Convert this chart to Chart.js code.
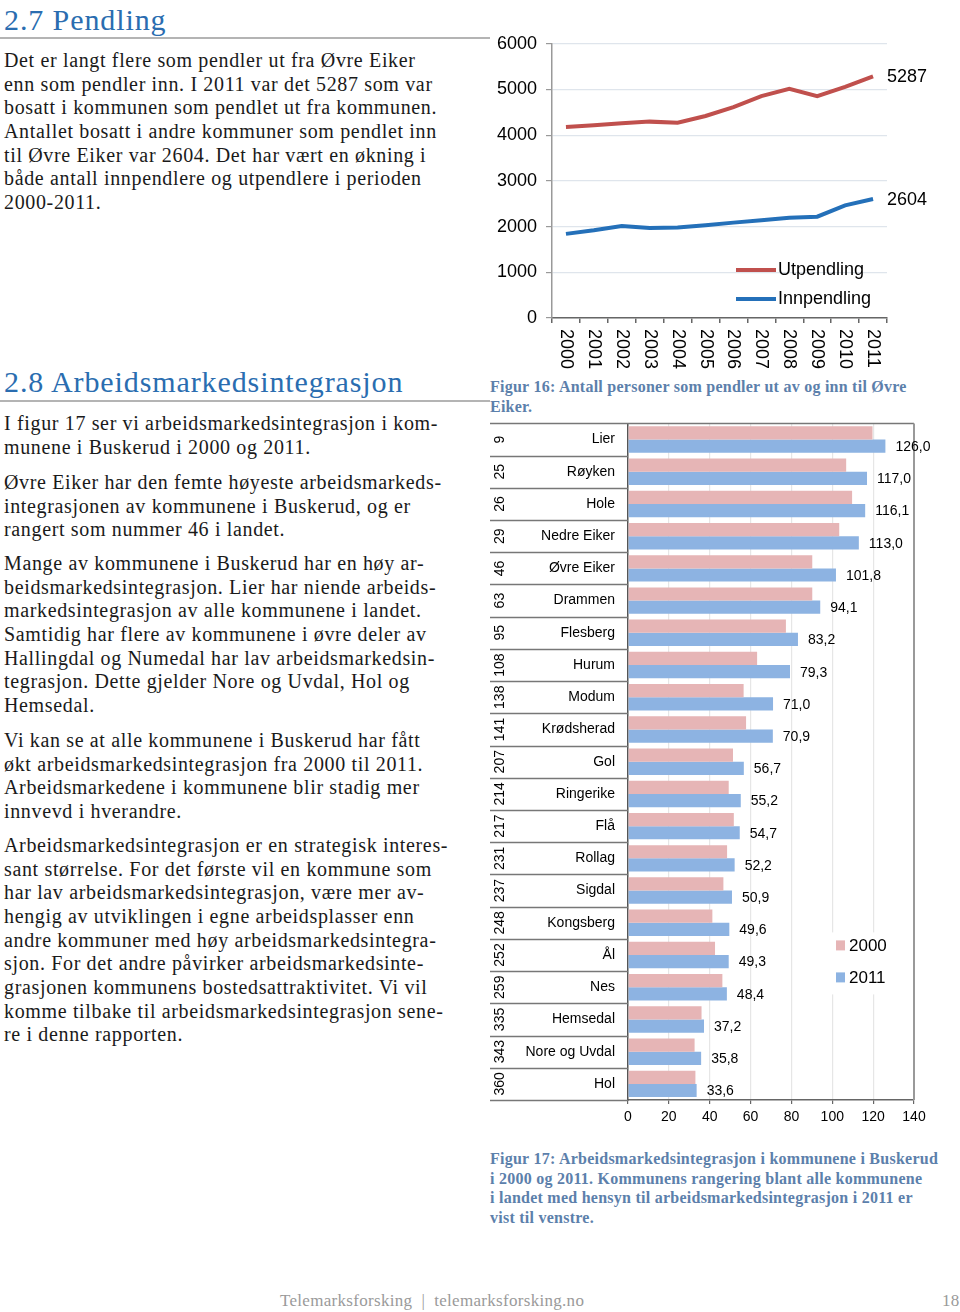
<!DOCTYPE html>
<html lang="no">
<head>
<meta charset="utf-8">
<script src="https://cdn.jsdelivr.net/npm/chart.js@4.4.1/dist/chart.umd.min.js"></script>
<style>
  html, body { margin: 0; padding: 0; background: #fff; }
  body { width: 960px; height: 1312px; position: relative; overflow: hidden; font-family: "Liberation Serif", serif; color: #1a1a1a; }
  .abs { position: absolute; white-space: nowrap; }
  .h { font-size: 30px; line-height: 34px; letter-spacing: 0.9px; color: #2a6db0; left: 4px; }
  .p { font-size: 20px; line-height: 23.65px; letter-spacing: 0.65px; left: 4px; }
  .rule { position: absolute; left: 0; width: 490px; height: 2px; background: #b4b4b4; }
  .cap { font-size: 16px; line-height: 19.6px; letter-spacing: 0.25px; font-weight: bold; color: #5c80ab; left: 490px; }
  .foot { font-size: 17px; letter-spacing: 0.3px; color: #9a9a9a; top: 1291px; }
  #pendling { position: absolute; left: 490px; top: 24px; }
  #integrasjon { position: absolute; left: 490px; top: 402px; }
</style>
</head>
<body>
<div class="abs h" style="top:3px">2.7 Pendling</div>
<div class="rule" style="top:37px"></div>
<div class="abs p" style="top:49px">Det er langt flere som pendler ut fra Øvre Eiker<br>enn som pendler inn. I 2011 var det 5287 som var<br>bosatt i kommunen som pendlet ut fra kommunen.<br>Antallet bosatt i andre kommuner som pendlet inn<br>til Øvre Eiker var 2604. Det har vært en økning i<br>både antall innpendlere og utpendlere i perioden<br>2000-2011.</div>

<div class="abs h" style="top:365px">2.8 Arbeidsmarkedsintegrasjon</div>
<div class="rule" style="top:400px"></div>
<div class="abs p" style="top:412px">I figur 17 ser vi arbeidsmarkedsintegrasjon i kom-<br>munene i Buskerud i 2000 og 2011.</div>
<div class="abs p" style="top:471px">Øvre Eiker har den femte høyeste arbeidsmarkeds-<br>integrasjonen av kommunene i Buskerud, og er<br>rangert som nummer 46 i landet.</div>
<div class="abs p" style="top:552px">Mange av kommunene i Buskerud har en høy ar-<br>beidsmarkedsintegrasjon. Lier har niende arbeids-<br>markedsintegrasjon av alle kommunene i landet.<br>Samtidig har flere av kommunene i øvre deler av<br>Hallingdal og Numedal har lav arbeidsmarkedsin-<br>tegrasjon. Dette gjelder Nore og Uvdal, Hol og<br>Hemsedal.</div>
<div class="abs p" style="top:729px">Vi kan se at alle kommunene i Buskerud har fått<br>økt arbeidsmarkedsintegrasjon fra 2000 til 2011.<br>Arbeidsmarkedene i kommunene blir stadig mer<br>innvevd i hverandre.</div>
<div class="abs p" style="top:834px">Arbeidsmarkedsintegrasjon er en strategisk interes-<br>sant størrelse. For det første vil en kommune som<br>har lav arbeidsmarkedsintegrasjon, være mer av-<br>hengig av utviklingen i egne arbeidsplasser enn<br>andre kommuner med høy arbeidsmarkedsintegra-<br>sjon. For det andre påvirker arbeidsmarkedsinte-<br>grasjonen kommunens bostedsattraktivitet. Vi vil<br>komme tilbake til arbeidsmarkedsintegrasjon sene-<br>re i denne rapporten.</div>

<canvas id="pendling" width="460" height="351"></canvas>
<div class="abs cap" style="top:377px">Figur 16: Antall personer som pendler ut av og inn til Øvre<br>Eiker.</div>

<canvas id="integrasjon" width="470" height="738"></canvas>
<div class="abs cap" style="top:1149px">Figur 17: Arbeidsmarkedsintegrasjon i kommunene i Buskerud<br>i 2000 og 2011. Kommunens rangering blant alle kommunene<br>i landet med hensyn til arbeidsmarkedsintegrasjon i 2011 er<br>vist til venstre.</div>

<div class="abs foot" style="left:280px">Telemarksforsking&nbsp; |&nbsp; telemarksforsking.no</div>
<div class="abs foot" style="left:942px">18</div>

<script>
const SANS = '"Liberation Sans", Arial, sans-serif';

// Figur 16 – pendling
const years = ["2000", "2001", "2002", "2003", "2004", "2005", "2006", "2007", "2008", "2009", "2010", "2011"];
const utpendling = [4180, 4217, 4260, 4297, 4275, 4420, 4616, 4855, 5015, 4855, 5058, 5287];
const innpendling = [1841, 1920, 2014, 1971, 1978, 2029, 2087, 2138, 2196, 2217, 2464, 2604];

// Figur 17 – arbeidsmarkedsintegrasjon
const kommuner = ["Lier", "Røyken", "Hole", "Nedre Eiker", "Øvre Eiker", "Drammen", "Flesberg", "Hurum", "Modum",
  "Krødsherad", "Gol", "Ringerike", "Flå", "Rollag", "Sigdal", "Kongsberg", "Ål", "Nes", "Hemsedal", "Nore og Uvdal", "Hol"];
const rangering = [9, 25, 26, 29, 46, 63, 95, 108, 138, 141, 207, 214, 217, 231, 237, 248, 252, 259, 335, 343, 360];
const verdi2000 = [119.7, 106.8, 109.7, 103.4, 90.2, 90.2, 77.3, 63.2, 56.6, 57.8, 51.4, 49.3, 51.8, 48.5, 46.7, 41.3, 42.6, 46.2, 36.0, 32.6, 33.0];
const verdi2011 = [126.0, 117.0, 116.1, 113.0, 101.8, 94.1, 83.2, 79.3, 71.0, 70.9, 56.7, 55.2, 54.7, 52.2, 50.9, 49.6, 49.3, 48.4, 37.2, 35.8, 33.6];

const RED = "#c0504d";
const BLUE = "#2470b9";
const PINK = "#e6b5b6";
const LIGHTBLUE = "#8db3e2";

Chart.defaults.font.family = SANS;
Chart.defaults.color = "#000";
Chart.defaults.animation = false;

const pendlingExtras = {
  id: "pendlingExtras",
  afterDraw(chart) {
    const { ctx, chartArea, scales } = chart;
    ctx.save();
    ctx.font = "18px " + SANS;
    ctx.fillStyle = "#000";

    // year labels, rotated clockwise
    ctx.textAlign = "left";
    ctx.textBaseline = "middle";
    years.forEach((y, i) => {
      ctx.save();
      ctx.translate(scales.x.getPixelForValue(i), chartArea.bottom + 11);
      ctx.rotate(Math.PI / 2);
      ctx.fillText(y, 0, 0);
      ctx.restore();
    });

    // end values
    chart.data.datasets.forEach((ds, di) => {
      const pts = chart.getDatasetMeta(di).data;
      const last = pts[pts.length - 1];
      ctx.fillText(String(ds.data[ds.data.length - 1]), last.x + 14, last.y + 1);
    });

    // legend inside the plot
    chart.data.datasets.forEach((ds, di) => {
      const y = chartArea.bottom - 48 + di * 29;
      const x = chartArea.right - 151;
      ctx.strokeStyle = ds.borderColor;
      ctx.lineWidth = 4;
      ctx.beginPath();
      ctx.moveTo(x, y);
      ctx.lineTo(x + 40, y);
      ctx.stroke();
      ctx.fillText(ds.label, x + 42, y);
    });
    ctx.restore();
  },
};

new Chart(document.getElementById("pendling"), {
  type: "line",
  data: {
    labels: years,
    datasets: [
      { label: "Utpendling", data: utpendling, borderColor: RED, borderWidth: 4, pointRadius: 0, tension: 0 },
      { label: "Innpendling", data: innpendling, borderColor: BLUE, borderWidth: 4, pointRadius: 0, tension: 0 },
    ],
  },
  options: {
    responsive: false,
    layout: { padding: { top: 6, right: 63, left: 0, bottom: 0 } },
    plugins: { legend: { display: false }, tooltip: { enabled: false } },
    scales: {
      x: {
        offset: true,
        grid: { offset: true, drawOnChartArea: false, tickLength: 5, tickColor: "#666", lineWidth: 1.5 },
        border: { color: "#666", width: 1.5 },
        ticks: { display: false },
        afterFit: (s) => { s.height = 57; },
      },
      y: {
        min: 0,
        max: 6000,
        ticks: { stepSize: 1000, padding: 9, font: { size: 18 }, callback: (v) => String(v) },
        grid: { color: "#dfe5ec", tickLength: 6, tickColor: "#999", lineWidth: 1.2 },
        border: { color: "#999", width: 1.5 },
        afterFit: (s) => { s.width = 62; },
      },
    },
  },
  plugins: [pendlingExtras],
});

const fmt = (v) => v.toFixed(1).replace(".", ",");

const integrasjonExtras = {
  id: "integrasjonExtras",
  afterDraw(chart) {
    const { ctx, chartArea, scales } = chart;
    const ys = scales.y;
    const half = (ys.getPixelForValue(1) - ys.getPixelForValue(0)) / 2;
    ctx.save();

    // row separators and frame
    ctx.strokeStyle = "#777";
    ctx.lineWidth = 1.5;
    ctx.beginPath();
    kommuner.forEach((k, i) => {
      const y = Math.round(ys.getPixelForValue(i) + half) + 0.5;
      ctx.moveTo(0, y);
      ctx.lineTo(chartArea.left, y);
    });
    ctx.moveTo(0, chartArea.top);
    ctx.lineTo(chartArea.right, chartArea.top);
    ctx.stroke();
    ctx.strokeStyle = "#999";
    ctx.lineWidth = 2;
    ctx.beginPath();
    ctx.moveTo(chartArea.right, chartArea.top);
    ctx.lineTo(chartArea.right, chartArea.bottom);
    ctx.stroke();

    // ranking numbers, rotated anticlockwise
    ctx.fillStyle = "#000";
    ctx.font = "14px " + SANS;
    ctx.textAlign = "center";
    ctx.textBaseline = "middle";
    rangering.forEach((r, i) => {
      ctx.save();
      ctx.translate(10, ys.getPixelForValue(i));
      ctx.rotate(-Math.PI / 2);
      ctx.fillText(String(r), 0, 0);
      ctx.restore();
    });

    // value labels for 2011
    ctx.textAlign = "left";
    chart.getDatasetMeta(1).data.forEach((bar, i) => {
      ctx.fillText(fmt(verdi2011[i]), bar.x + 10, bar.y + 1);
    });

    // legend
    const lx = chartArea.right - 84;
    const ly = chartArea.top + 509;
    ctx.fillStyle = "#fff";
    ctx.fillRect(lx - 2, ly, 72, 62);
    ctx.font = "17px " + SANS;
    chart.data.datasets.forEach((ds, di) => {
      const y = ly + 13 + di * 32;
      ctx.fillStyle = ds.backgroundColor;
      ctx.fillRect(lx + 6, y - 5, 9, 10);
      ctx.fillStyle = "#000";
      ctx.fillText(ds.label, lx + 19, y + 1);
    });
    ctx.restore();
  },
};

new Chart(document.getElementById("integrasjon"), {
  type: "bar",
  data: {
    labels: kommuner,
    datasets: [
      { label: "2000", data: verdi2000, backgroundColor: PINK, categoryPercentage: 0.82, barPercentage: 1.0 },
      { label: "2011", data: verdi2011, backgroundColor: LIGHTBLUE, categoryPercentage: 0.82, barPercentage: 1.0 },
    ],
  },
  options: {
    responsive: false,
    indexAxis: "y",
    layout: { padding: { top: 6, right: 46, left: 0, bottom: 0 } },
    plugins: { legend: { display: false }, tooltip: { enabled: false } },
    scales: {
      x: {
        min: 0,
        max: 140,
        ticks: { stepSize: 20, padding: 5, font: { size: 14 } },
        grid: { color: "#e6e6e6", tickLength: 4, tickColor: "#666", lineWidth: 1.2 },
        border: { color: "#666", width: 1.5 },
        afterFit: (s) => { s.height = 40; },
      },
      y: {
        grid: { display: false, drawTicks: false },
        border: { display: true, color: "#555", width: 1.5 },
        ticks: { padding: 13, autoSkip: false, font: { size: 14 } },
        afterFit: (s) => { s.width = 138; },
      },
    },
  },
  plugins: [integrasjonExtras],
});
</script>
</body>
</html>
